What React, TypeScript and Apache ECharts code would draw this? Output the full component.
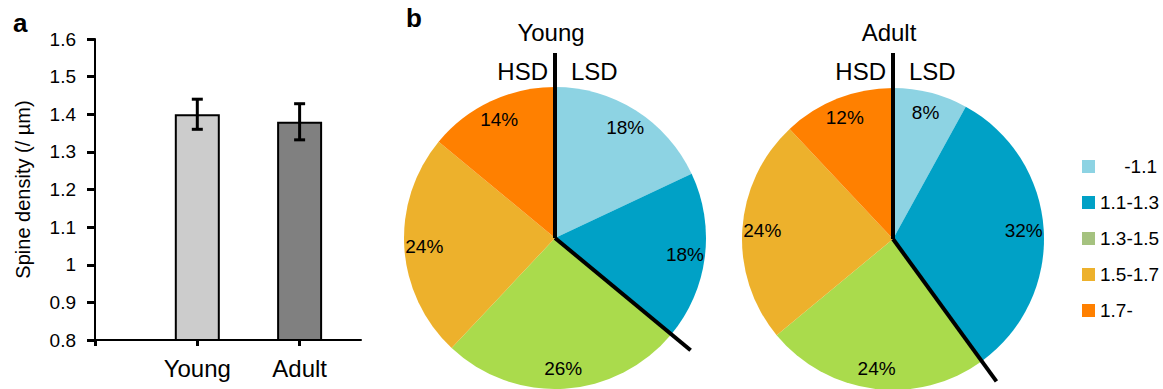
import React, { useEffect, useRef } from "react";
import * as echarts from "echarts";

// ---- data ----
const categories = ["Young", "Adult"];
const densityMean = [1.4, 1.38];
const densityErr = [0.04, 0.048];

const sizeClasses = ["-1.1", "1.1-1.3", "1.3-1.5", "1.5-1.7", "1.7-"];
const youngPct = [18, 18, 26, 24, 14];
const adultPct = [8, 32, 24, 24, 12];
const lsdClassCount = 2; // first classes belong to LSD
const pieTitles = ["Young", "Adult"];

const pieColors = ["#8DD3E3", "#00A1C6", "#AADB4C", "#EDB12C", "#FF8000"];
const legendColors = ["#8DD3E3", "#00A1C6", "#A5C27F", "#EDB12C", "#FF8000"];
const barColors = ["#CCCCCC", "#808080"];

const FONT = "'Liberation Sans', Arial, sans-serif";

export default function App() {
  const ref = useRef<HTMLDivElement>(null);

  useEffect(() => {
    if (!ref.current) return;
    const chart = echarts.init(ref.current, null, { renderer: "svg" });

    const pies = [
      { title: pieTitles[0], pct: youngPct, cx: 555, cy: 238 },
      { title: pieTitles[1], pct: adultPct, cx: 893, cy: 239 },
    ];
    const R = 151;

    const pieSeries: any[] = [];
    const graphics: any[] = [
      {
        type: "text",
        left: 13,
        top: 10,
        style: { text: "a", font: `bold 26px ${FONT}`, fill: "#000" },
      },
      {
        type: "text",
        left: 406,
        top: 5,
        style: { text: "b", font: `bold 26px ${FONT}`, fill: "#000" },
      },
    ];

    pies.forEach((p) => {
      const data = sizeClasses.map((name, i) => ({
        name,
        value: p.pct[i],
        itemStyle: { color: pieColors[i] },
      }));
      pieSeries.push({
        type: "pie",
        center: [p.cx, p.cy],
        radius: [0, R],
        startAngle: 90,
        clockwise: true,
        silent: true,
        label: { show: false },
        labelLine: { show: false },
        itemStyle: { borderWidth: 0 },
        emphasis: { disabled: true },
        data,
      });
      // label ring (transparent) to place percentages near the rim
      pieSeries.push({
        type: "pie",
        center: [p.cx, p.cy],
        radius: [104, 152],
        startAngle: 90,
        clockwise: true,
        silent: true,
        z: 5,
        itemStyle: { color: "rgba(0,0,0,0)", borderWidth: 0 },
        label: {
          show: true,
          position: "inside",
          formatter: "{c}%",
          color: "#000",
          fontSize: 19,
          fontFamily: FONT,
        },
        labelLine: { show: false },
        emphasis: { disabled: true },
        data: sizeClasses.map((name, i) => ({ name, value: p.pct[i] })),
      });

      const lsd = p.pct.slice(0, lsdClassCount).reduce((a, b) => a + b, 0);
      const ang = (lsd / 100) * Math.PI * 2;
      const L = 176;
      graphics.push(
        {
          type: "line",
          z: 100,
          shape: { x1: p.cx, y1: p.cy, x2: p.cx, y2: 53 },
          style: { stroke: "#000", lineWidth: 4 },
        },
        {
          type: "line",
          z: 100,
          shape: {
            x1: p.cx,
            y1: p.cy,
            x2: p.cx + L * Math.sin(ang),
            y2: p.cy - L * Math.cos(ang),
          },
          style: { stroke: "#000", lineWidth: 4 },
        },
        {
          type: "text",
          z: 100,
          x: p.cx - 4,
          y: 32,
          style: {
            text: p.title,
            font: `24px ${FONT}`,
            fill: "#000",
            align: "center",
            verticalAlign: "middle",
          },
        },
        {
          type: "text",
          z: 100,
          x: p.cx - 7,
          y: 71,
          style: {
            text: "HSD",
            font: `24px ${FONT}`,
            fill: "#000",
            align: "right",
            verticalAlign: "middle",
          },
        },
        {
          type: "text",
          z: 100,
          x: p.cx + 16,
          y: 71,
          style: {
            text: "LSD",
            font: `24px ${FONT}`,
            fill: "#000",
            align: "left",
            verticalAlign: "middle",
          },
        }
      );
    });

    const barData = categories.map((c, i) => [i + 1, densityMean[i]]);
    const errData = categories.map((c, i) => [
      i + 1,
      densityMean[i] - densityErr[i],
      densityMean[i] + densityErr[i],
    ]);

    const legendText = {
      width: 57,
      fontSize: 19,
      lineHeight: 20,
      color: "#000",
      fontFamily: FONT,
    };

    const option: any = {
      animation: false,
      backgroundColor: "#fff",
      textStyle: { fontFamily: FONT },
      grid: { left: 95, top: 39, width: 266, height: 301, containLabel: false },
      xAxis: {
        type: "value",
        min: 0,
        max: 2.6,
        splitLine: { show: false },
        axisLine: { show: true, lineStyle: { color: "#000", width: 2 } },
        axisTick: {
          show: true,
          customValues: [0, 1, 2],
          length: 6,
          lineStyle: { color: "#000", width: 3 },
        },
        axisLabel: {
          customValues: [1, 2],
          formatter: (v: number) => categories[Math.round(v) - 1] || "",
          fontSize: 24,
          color: "#000",
          fontFamily: FONT,
          margin: 16,
        },
      },
      yAxis: {
        type: "value",
        min: 0.8,
        max: 1.6,
        interval: 0.1,
        splitLine: { show: false },
        axisLine: { show: true, lineStyle: { color: "#000", width: 2 } },
        axisTick: { show: true, length: 8, lineStyle: { color: "#000", width: 3 } },
        axisLabel: {
          fontSize: 19,
          color: "#000",
          fontFamily: FONT,
          margin: 19,
          formatter: (v: number) => String(Math.round(v * 10) / 10),
        },
        name: "Spine density (/ µm)",
        nameLocation: "middle",
        nameGap: 62,
        nameTextStyle: { fontSize: 20, color: "#000", fontFamily: FONT },
      },
      legend: {
        orient: "vertical",
        left: 1077,
        top: 152,
        itemWidth: 13,
        itemHeight: 13,
        itemGap: 17,
        icon: "rect",
        selectedMode: false,
        data: sizeClasses.map((name, i) => ({
          name,
          itemStyle: { color: legendColors[i] },
        })),
        formatter: (name: string) =>
          name.startsWith("-") ? `{r|${name}}` : `{l|${name}}`,
        textStyle: {
          rich: {
            r: { ...legendText, align: "right" },
            l: { ...legendText, align: "left" },
          },
        },
      },
      series: [
        {
          type: "bar",
          data: barData.map((d, i) => ({
            value: d,
            itemStyle: { color: barColors[i] },
          })),
          barWidth: 45,
          itemStyle: { borderColor: "#000", borderWidth: 2 },
          silent: true,
        },
        {
          type: "custom",
          data: errData,
          silent: true,
          z: 10,
          renderItem: (params: any, api: any) => {
            const x = api.value(0);
            const top = api.coord([x, api.value(2)]);
            const bot = api.coord([x, api.value(1)]);
            const h = 5.5;
            const st = { stroke: "#000", lineWidth: 3 };
            return {
              type: "group",
              children: [
                { type: "line", shape: { x1: top[0], y1: top[1], x2: bot[0], y2: bot[1] }, style: st },
                { type: "line", shape: { x1: top[0] - h, y1: top[1], x2: top[0] + h, y2: top[1] }, style: st },
                { type: "line", shape: { x1: bot[0] - h, y1: bot[1], x2: bot[0] + h, y2: bot[1] }, style: st },
              ],
            };
          },
        },
        ...pieSeries,
      ],
      graphic: graphics,
    };

    chart.setOption(option);
    return () => chart.dispose();
  }, []);

  return (
    <div
      ref={ref}
      style={{ position: "fixed", left: 0, top: 0, width: 1163, height: 389, background: "#fff" }}
    />
  );
}
